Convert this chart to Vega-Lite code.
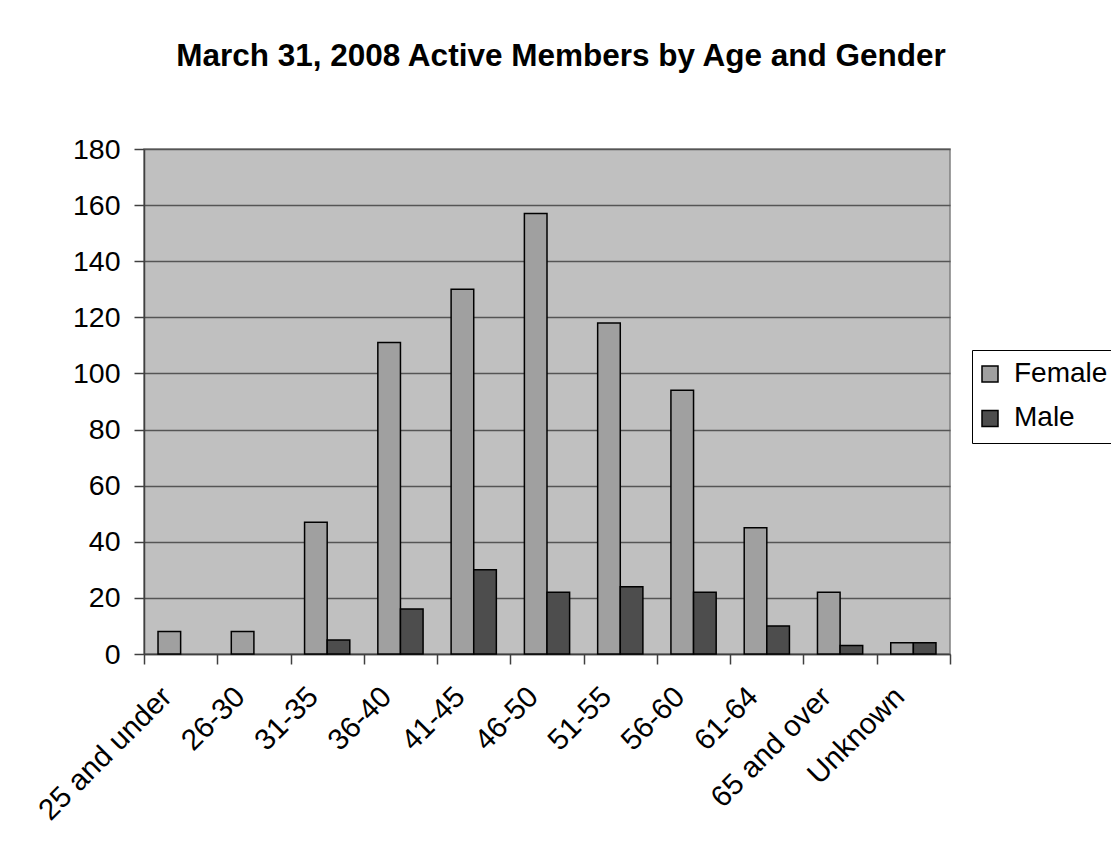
{
  "$schema": "https://vega.github.io/schema/vega-lite/v6.json",
  "autosize": {"type": "none"},
  "padding": {"left": 144, "top": 149, "right": 161, "bottom": 188},
  "width": 806,
  "height": 505,
  "background": "white",
  "title": {
    "text": "March 31, 2008 Active Members by Age and Gender",
    "font": "Liberation Sans",
    "fontSize": 31.5,
    "fontWeight": "bold",
    "color": "black",
    "anchor": "middle",
    "frame": "group",
    "offset": 63,
    "dx": 14
  },
  "data": {
    "values": [
      {"age": "25 and under", "gender": "Female", "count": 8},
      {"age": "26-30", "gender": "Female", "count": 8},
      {"age": "31-35", "gender": "Female", "count": 47},
      {"age": "31-35", "gender": "Male", "count": 5},
      {"age": "36-40", "gender": "Female", "count": 111},
      {"age": "36-40", "gender": "Male", "count": 16},
      {"age": "41-45", "gender": "Female", "count": 130},
      {"age": "41-45", "gender": "Male", "count": 30},
      {"age": "46-50", "gender": "Female", "count": 157},
      {"age": "46-50", "gender": "Male", "count": 22},
      {"age": "51-55", "gender": "Female", "count": 118},
      {"age": "51-55", "gender": "Male", "count": 24},
      {"age": "56-60", "gender": "Female", "count": 94},
      {"age": "56-60", "gender": "Male", "count": 22},
      {"age": "61-64", "gender": "Female", "count": 45},
      {"age": "61-64", "gender": "Male", "count": 10},
      {"age": "65 and over", "gender": "Female", "count": 22},
      {"age": "65 and over", "gender": "Male", "count": 3},
      {"age": "Unknown", "gender": "Female", "count": 4},
      {"age": "Unknown", "gender": "Male", "count": 4}
    ]
  },
  "mark": {"type": "bar", "stroke": "black", "strokeWidth": 1.5},
  "encoding": {
    "x": {
      "field": "age",
      "type": "nominal",
      "sort": ["25 and under", "26-30", "31-35", "36-40", "41-45", "46-50", "51-55", "56-60", "61-64", "65 and over", "Unknown"],
      "scale": {"paddingInner": 0, "paddingOuter": 0},
      "axis": {
        "title": null,
        "labelAngle": -45,
        "labelAlign": "right",
        "labelBaseline": "top",
        "labelOffset": -24,
        "labelPadding": 18,
        "tickBand": "extent",
        "tickSize": 10,
        "tickWidth": 1.5,
        "tickColor": "#404040",
        "domainColor": "#404040",
        "domainWidth": 1.5,
        "grid": false,
        "labelFont": "Liberation Sans",
        "labelFontSize": 29.5,
        "labelColor": "black",
        "labelOverlap": false,
        "labelBound": false
      }
    },
    "xOffset": {
      "field": "gender",
      "sort": ["Female", "Male"],
      "scale": {"paddingInner": 0, "paddingOuter": 0.62}
    },
    "y": {
      "field": "count",
      "type": "quantitative",
      "scale": {"domain": [0, 180], "nice": false},
      "axis": {
        "title": null,
        "values": [0, 20, 40, 60, 80, 100, 120, 140, 160, 180],
        "grid": true,
        "gridColor": "#555555",
        "gridWidth": 1.5,
        "tickSize": 10,
        "tickWidth": 1.5,
        "tickColor": "#404040",
        "domainColor": "#404040",
        "domainWidth": 1.5,
        "labelPadding": 14,
        "labelFont": "Liberation Sans",
        "labelFontSize": 28.5,
        "labelColor": "black",
        "labelFlush": false,
        "labelOverlap": false,
        "labelBound": false
      }
    },
    "color": {
      "field": "gender",
      "type": "nominal",
      "scale": {"domain": ["Female", "Male"], "range": ["#A0A0A0", "#4D4D4D"]},
      "legend": {
        "title": null,
        "orient": "none",
        "legendX": 828,
        "legendY": 201,
        "strokeColor": "black",
        "padding": 10,
        "symbolType": "square",
        "symbolSize": 256,
        "symbolOffset": -6,
        "symbolStrokeColor": "black",
        "symbolStrokeWidth": 1.5,
        "symbolOpacity": 1,
        "labelFont": "Liberation Sans",
        "labelFontSize": 28,
        "labelColor": "black",
        "labelOffset": 10,
        "rowPadding": 16.4
      }
    }
  },
  "config": {
    "view": {"fill": "#C0C0C0", "stroke": "#808080", "strokeWidth": 1.5},
    "font": "Liberation Sans"
  }
}
